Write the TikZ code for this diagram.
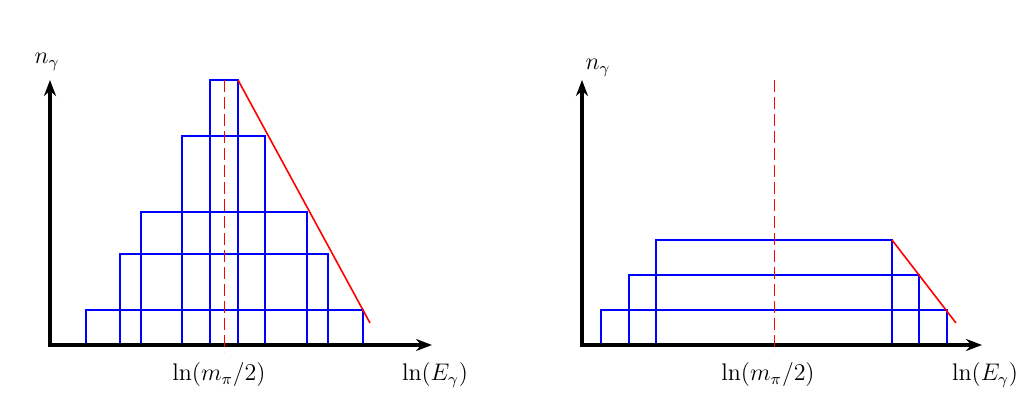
\documentclass[tikz,border=0pt]{standalone}
\usetikzlibrary{arrows.meta,positioning}

\begin{document}
\begin{tikzpicture}[
  x=0.5pt, y=-0.5pt,
  axis/.style={{Stealth[length=8pt,width=6pt]}-{Stealth[length=8pt,width=6pt]}, line width=2pt},
  band/.style={draw=blue, line width=1.2pt},
  cutoff/.style={red, line width=0.8pt},
  peak/.style={red, line width=0.45pt, dash pattern=on 6pt off 2.5pt},
  lbl/.style={font=\fontsize{12}{14}\selectfont, inner sep=1pt},
]
  \useasboundingbox (0,0) rectangle (1032,399);

  % left panel: narrow bands
  \coordinate (o1) at (50,345);
  \coordinate (xend1) at (432,345);
  \coordinate (yend1) at (50,80);
  \foreach \l/\r/\t in {86/363/310, 120/328/254, 141/307/212, 182/265/136, 210/238/80}
    \draw[band] (\l,345) rectangle (\r,\t);
  \coordinate (kneeA) at (238,80);
  \coordinate (tailA) at (370,323);
  \draw[cutoff] (kneeA) -- (tailA);
  \coordinate (midtopA) at (224,80);
  \coordinate (midbotA) at (224,352);
  \draw[axis] (yend1) -- (o1) -- (xend1);
  \draw[peak] (midtopA) -- (midbotA);
  \node[lbl] (ylab1) at (47,62) {$n_\gamma$};
  \node[lbl] (peaklab1) at (219,375) {$\ln(m_\pi/2)$};
  \node[lbl] (xlab1) at (435,375) {$\ln(E_\gamma)$};

  % right panel: wide bands
  \coordinate (o2) at (582,345);
  \coordinate (xend2) at (982,345);
  \coordinate (yend2) at (582,80);
  \foreach \l/\r/\t in {601/947/310, 629/919/275, 656/892/240}
    \draw[band] (\l,345) rectangle (\r,\t);
  \coordinate (kneeB) at (892,240);
  \coordinate (tailB) at (956,323);
  \draw[cutoff] (kneeB) -- (tailB);
  \coordinate (midtopB) at (774,80);
  \coordinate (midbotB) at (774,352);
  \draw[axis] (yend2) -- (o2) -- (xend2);
  \draw[peak] (midtopB) -- (midbotB);
  \node[lbl] (ylab2) at (598,68) {$n_\gamma$};
  \node[lbl] (peaklab2) at (768,375) {$\ln(m_\pi/2)$};
  \node[lbl] (xlab2) at (985,375) {$\ln(E_\gamma)$};
\end{tikzpicture}
\end{document}
